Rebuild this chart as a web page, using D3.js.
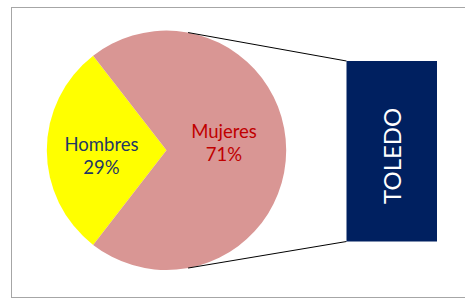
<!DOCTYPE html>
<html>
<head>
<meta charset="utf-8">
<script src="https://cdn.jsdelivr.net/npm/d3@7.9.0/dist/d3.min.js"></script>
<style>
  body { margin: 0; background: #fff; }
  svg { display: block; }
  text { font-family: Lato, "Open Sans", sans-serif; }
</style>
</head>
<body>
<div id="chart"></div>
<script>
// datos
const categories = ['Hombres', 'Mujeres'];
const values = [29, 71];
const percentLabels = ['29%', '71%'];
const colors = ['#FFFF00', '#D99694'];
const textColors = ['#1F3864', '#C00000'];
const boxLabel = 'TOLEDO';

const width = 465;
const height = 300;
const cx = 166.5, cy = 150.3, r = 119.7;
const box = { x: 346.5, y: 61, w: 90.5, h: 180.5 };
// posicion de etiquetas (radio y desplazamiento vertical de la primera linea)
const labelRadius = [65, 57.5];
const labelDy = [0.6, -12.6];
const lineGap = 23.6;
const connectorAngle = 10.4 * Math.PI / 180;

const svg = d3.select('#chart')
  .append('svg')
  .attr('width', width)
  .attr('height', height);

// marco
svg.append('rect')
  .attr('x', 11.5).attr('y', 7.5)
  .attr('width', 460).attr('height', 290)
  .attr('fill', 'none')
  .attr('stroke', '#A6A6A6')
  .attr('stroke-width', 1);

const data = categories.map((c, i) => ({ cat: c, value: values[i], pct: percentLabels[i], i }));

// el sector de Hombres queda centrado a la izquierda
const frac = values[0] / d3.sum(values);
const start = 1.5 * Math.PI - frac * Math.PI;

const pie = d3.pie()
  .value(d => d.value)
  .sort(null)
  .startAngle(start)
  .endAngle(start + 2 * Math.PI);

const arc = d3.arc().innerRadius(0).outerRadius(r);
const arcs = pie(data);

const g = svg.append('g').attr('transform', `translate(${cx},${cy})`);

g.selectAll('path')
  .data(arcs)
  .join('path')
  .attr('d', arc)
  .attr('fill', d => colors[d.data.i]);

// etiquetas
arcs.forEach(a => {
  const k = a.data.i;
  const la = d3.arc().innerRadius(labelRadius[k]).outerRadius(labelRadius[k]);
  const [lx] = la.centroid(a);
  const t = g.append('text')
    .attr('text-anchor', 'middle')
    .attr('font-size', 18.5)
    .attr('fill', textColors[k]);
  t.append('tspan').attr('x', lx).attr('y', labelDy[k]).text(a.data.cat);
  t.append('tspan').attr('x', lx).attr('y', labelDy[k] + lineGap).text(a.data.pct);
});

// conectores
const p1 = [cx + r * Math.sin(connectorAngle), cy - r * Math.cos(connectorAngle)];
const p2 = [cx + r * Math.sin(connectorAngle), cy + r * Math.cos(connectorAngle)];
svg.append('line')
  .attr('x1', p1[0]).attr('y1', p1[1])
  .attr('x2', box.x).attr('y2', box.y)
  .attr('stroke', '#000').attr('stroke-width', 1);
svg.append('line')
  .attr('x1', p2[0]).attr('y1', p2[1])
  .attr('x2', box.x).attr('y2', box.y + box.h)
  .attr('stroke', '#000').attr('stroke-width', 1);

// caja
svg.append('rect')
  .attr('x', box.x).attr('y', box.y)
  .attr('width', box.w).attr('height', box.h)
  .attr('fill', '#002060');

svg.append('text')
  .attr('transform', `translate(${box.x + box.w / 2 + 9.5},${box.y + box.h / 2 + 4.6}) rotate(-90)`)
  .attr('text-anchor', 'middle')
  .attr('font-size', 24)
  .attr('fill', '#fff')
  .text(boxLabel);
</script>
</body>
</html>
